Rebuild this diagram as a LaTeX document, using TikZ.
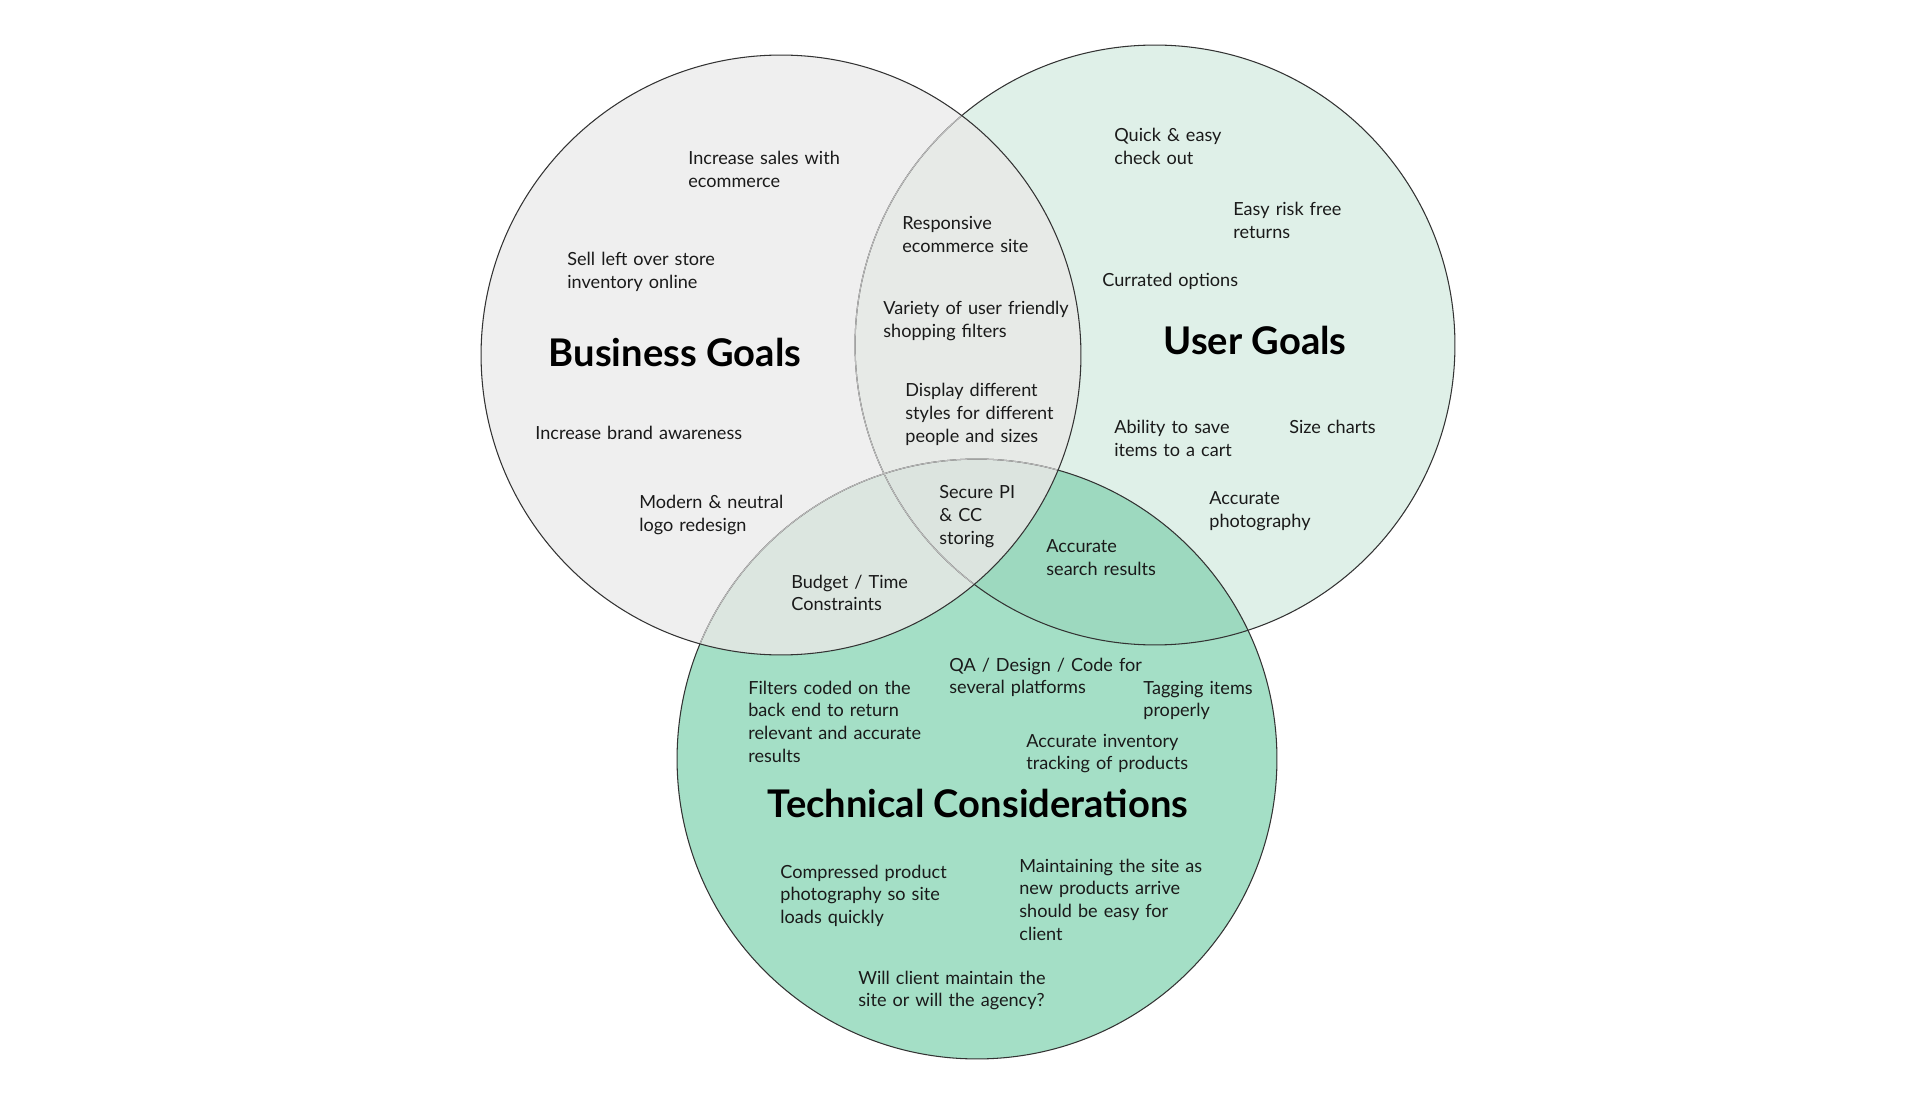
\documentclass[tikz,border=0pt]{standalone}
\usepackage{fontspec}
\setmainfont{Lato}
\usetikzlibrary{positioning}

\definecolor{bizgray}{HTML}{EFEFEF}
\definecolor{usermint}{HTML}{DFF0E8}
\definecolor{techgreen}{HTML}{A4DFC6}
\definecolor{bizuser}{HTML}{E7EAE7}
\definecolor{biztech}{HTML}{DCE6E0}
\definecolor{usertech}{HTML}{9DD9BF}
\definecolor{allthree}{HTML}{DCE4DF}
\definecolor{ringdark}{HTML}{333333}
\definecolor{ringlight}{HTML}{BDBDBD}
\definecolor{inkblack}{HTML}{1A1A1A}

\begin{document}
\begin{tikzpicture}[
    % GLOBAL CFG
    x=0.02cm, y=-0.02cm,
    % Styles
    set/.style={% For the three big circles
        circle,
        minimum size=12cm,
        inner sep=0pt,
        outer sep=0pt,
        },
    goal/.style={% For the circle titles
        font=\bfseries\fontsize{21.7}{26}\selectfont,
        anchor=base,
        inner sep=0pt,
        text=black,
        },
    item/.style={% For the notes inside the circles
        font=\fontsize{10.3}{12.95}\selectfont,
        text width=6cm,
        align=left,
        anchor=base west,
        inner sep=0pt,
        text=inkblack,
        },
    ring/.style={% Outline of a circle
        draw=ringdark,
        line width=0.6pt,
        },
    ]

    \useasboundingbox [fill=white] (0,0) rectangle (1920,1104);

    % Draw the circles (fills only)
    \node [set, fill=usermint] (user) at (1155,345) {};
    \node [set, fill=techgreen] (technical) at (977,759) {};
    \node [set, fill=bizgray] (business) at (781,355) {};

    \newcommand{\rad}{6cm}

    % Overlaps
    \begin{scope}
        \clip (user.center) circle[radius=\rad];
        \fill [usertech] (technical.center) circle[radius=\rad];
        \fill [bizuser] (business.center) circle[radius=\rad];
    \end{scope}
    \begin{scope}
        \clip (business.center) circle[radius=\rad];
        \fill [biztech] (technical.center) circle[radius=\rad];
        \clip (user.center) circle[radius=\rad];
        \fill [allthree] (technical.center) circle[radius=\rad];
    \end{scope}

    % Outlines, lighter where they run under the business circle
    \draw [ring] (user.center) circle[radius=\rad];
    \draw [ring] (technical.center) circle[radius=\rad];
    \begin{scope}
        \clip (business.center) circle[radius=\rad];
        \draw [ring, draw=ringlight] (user.center) circle[radius=\rad];
        \draw [ring, draw=ringlight] (technical.center) circle[radius=\rad];
    \end{scope}
    \draw [ring] (business.center) circle[radius=\rad];

    % Titles
    \node [goal] (business_title) at (675,367) {Business Goals};
    \node [goal] (user_title) at (1255,355) {User Goals};
    \node [goal] (technical_title) at (978,817) {Technical Considerations};

    % Business only
    \node [item] (sales) at (688,165) {Increase sales with\\ecommerce};
    \node [item] (leftover) at (567,266) {Sell left over store\\inventory online};
    \node [item] (brand) at (535,440) {Increase brand awareness};
    \node [item] (logo) at (639,509) {Modern \& neutral\\logo redesign};

    % Business and user
    \node [item] (responsive) at (902,230) {Responsive\\ecommerce site};
    \node [item] (filters_ux) at (883,315) {Variety of user friendly\\shopping filters};
    \node [item] (display) at (905,397) {Display different\\styles for different\\people and sizes};

    % All three / business and technical
    \node [item] (secure) at (939,499) {Secure PI\\\& CC\\storing};
    \node [item] (budget) at (791,588) {Budget / Time\\Constraints};

    % User only
    \node [item] (checkout) at (1114,142) {Quick \& easy\\check out};
    \node [item] (returns) at (1233,216) {Easy risk free\\returns};
    \node [item] (curated) at (1102,287) {Currated options};
    \node [item] (cart) at (1114,434) {Ability to save\\items to a cart};
    \node [item] (size_charts) at (1289,434) {Size charts};
    \node [item] (photography) at (1209,505) {Accurate\\photography};

    % User and technical
    \node [item] (search) at (1046,553) {Accurate\\search results};

    % Technical only
    \node [item] (platforms) at (949,671) {QA / Design / Code for\\several platforms};
    \node [item] (filters_code) at (748,694) {Filters coded on the\\back end to return\\relevant and accurate\\results};
    \node [item] (tagging) at (1143,694) {Tagging items\\properly};
    \node [item] (inventory) at (1026,747) {Accurate inventory\\tracking of products};
    \node [item] (compressed) at (780,878) {Compressed product\\photography so site\\loads quickly};
    \node [item] (maintaining) at (1019,872) {Maintaining the site as\\new products arrive\\should be easy for\\client};
    \node [item] (agency) at (858,984) {Will client maintain the\\site or will the agency?};

\end{tikzpicture}
\end{document}
